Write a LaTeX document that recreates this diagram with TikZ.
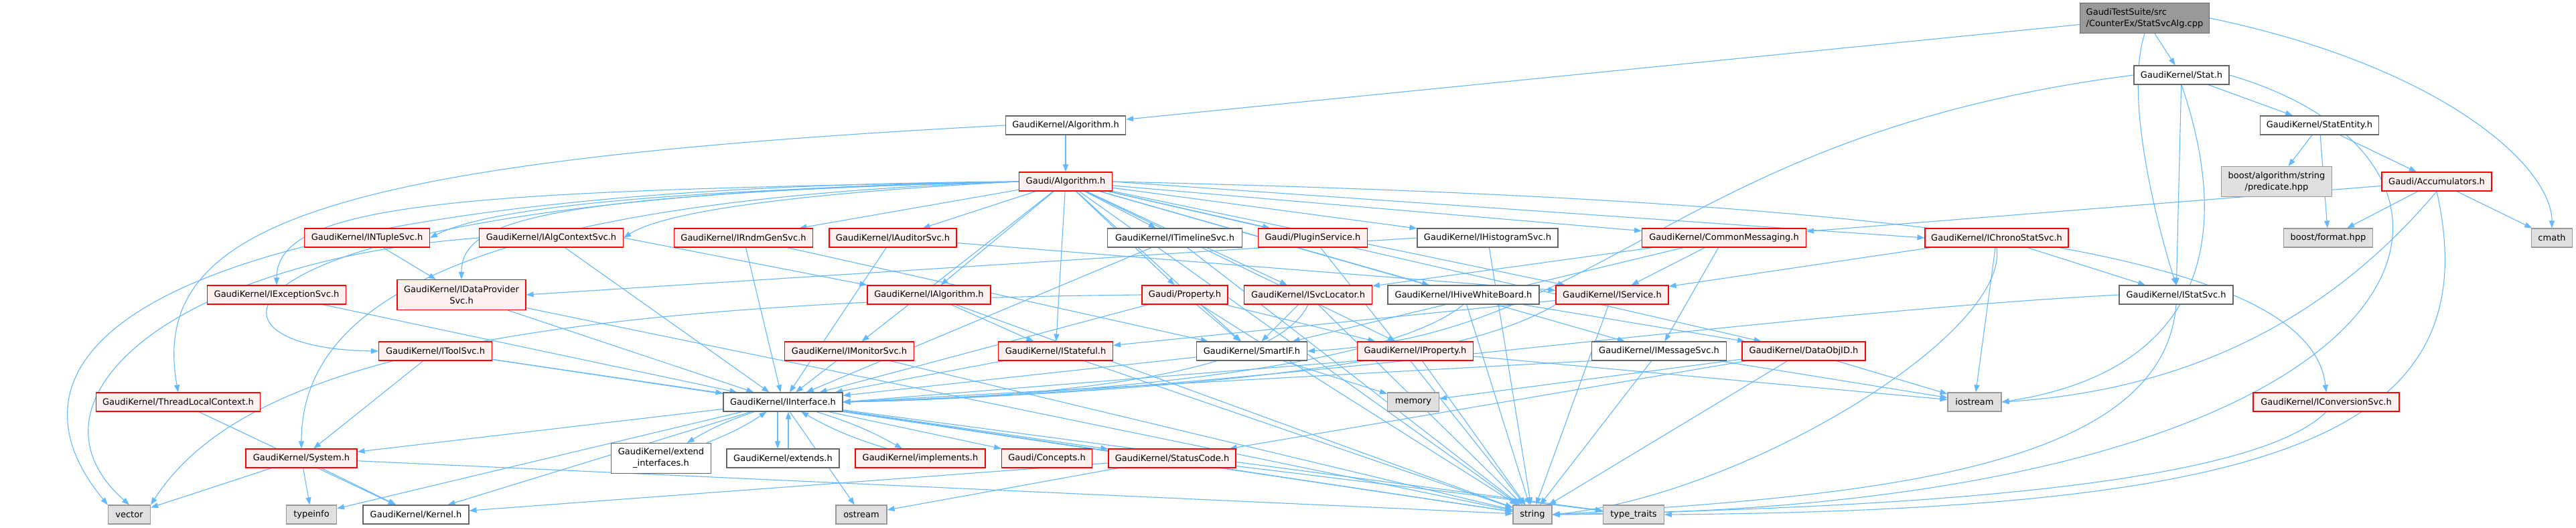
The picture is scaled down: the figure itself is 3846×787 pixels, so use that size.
\documentclass[tikz,border=0pt]{standalone}
\usepackage{fontspec}
\setmainfont{DejaVu Sans}
\usetikzlibrary{arrows.meta}
\pgfdeclarelayer{bgfill}
\pgfdeclarelayer{background}
\pgfsetlayers{bgfill,background,main}
\definecolor{edgec}{HTML}{63B8FF}
\definecolor{redfill}{HTML}{FFF0F0}
\definecolor{sysfill}{HTML}{E0E0E0}
\definecolor{sysborder}{HTML}{999999}
\definecolor{wborder}{HTML}{666666}
\definecolor{topfill}{HTML}{999999}
\begin{document}
\begin{tikzpicture}[x=1pt,y=1pt,
  box/.style={rectangle, inner sep=0pt, minimum height=28pt, line width=1.1pt, align=center, font=\fontsize{13}{17}\selectfont},
  rnode/.style={box, draw=red, fill=redfill},
  wnode/.style={box, draw=wborder, fill=white},
  snode/.style={box, draw=sysborder, fill=sysfill},
  tnode/.style={box, draw=wborder, fill=topfill},
  edge/.style={draw=edgec, color=edgec, line width=1.1pt, -{Triangle[length=11pt,width=8pt]}}
]
\begin{pgfonlayer}{bgfill}
\fill[white] (0,0) rectangle (3846,-787);
\end{pgfonlayer}
\useasboundingbox (0,0) rectangle (3846,-787);

% ---------- nodes ----------
\node[tnode, minimum width=193pt, minimum height=45pt, align=left] (top) at (3202,-27) {GaudiTestSuite/src\\/CounterEx/StatSvcAlg.cpp};
\node[wnode, minimum width=142pt] (stat) at (3257,-112) {GaudiKernel/Stat.h};
\node[wnode, minimum width=177pt] (statentity) at (3463,-187) {GaudiKernel/StatEntity.h};
\node[snode, minimum width=165pt, minimum height=45pt] (predicate) at (3399,-271) {boost/algorithm/string\\/predicate.hpp};
\node[rnode, minimum width=164pt] (accum) at (3638,-271) {Gaudi/Accumulators.h};
\node[snode, minimum width=133pt] (format) at (3476,-355) {boost/format.hpp};
\node[snode, minimum width=61pt] (cmath) at (3810,-355) {cmath};
\node[wnode, minimum width=179pt] (ralg) at (1591,-187) {GaudiKernel/Algorithm.h};
\node[rnode, minimum width=139pt] (galg) at (1591,-271) {Gaudi/Algorithm.h};

\node[rnode, minimum width=187pt] (intuple) at (548,-355) {GaudiKernel/INTupleSvc.h};
\node[rnode, minimum width=215pt] (algctx) at (823,-355) {GaudiKernel/IAlgContextSvc.h};
\node[rnode, minimum width=207pt] (rndm) at (1110,-355) {GaudiKernel/IRndmGenSvc.h};
\node[rnode, minimum width=190pt] (auditor) at (1333,-355) {GaudiKernel/IAuditorSvc.h};
\node[wnode, minimum width=201pt] (timeline) at (1754,-355) {GaudiKernel/ITimelineSvc.h};
\node[rnode, minimum width=163pt] (plugin) at (1960,-355) {Gaudi/PluginService.h};
\node[wnode, minimum width=210pt] (histo) at (2221,-355) {GaudiKernel/IHistogramSvc.h};
\node[rnode, minimum width=245pt] (commonmsg) at (2574,-355) {GaudiKernel/CommonMessaging.h};
\node[rnode, minimum width=214pt] (chrono) at (2981,-355) {GaudiKernel/IChronoStatSvc.h};

\node[rnode, minimum width=207pt] (exception) at (413,-440) {GaudiKernel/IExceptionSvc.h};
\node[rnode, minimum width=192pt, minimum height=45pt] (dataprov) at (689,-440) {GaudiKernel/IDataProvider\\Svc.h};
\node[rnode, minimum width=184pt] (ialgorithm) at (1387,-440) {GaudiKernel/IAlgorithm.h};
\node[rnode, minimum width=128pt] (property) at (1769,-440) {Gaudi/Property.h};
\node[rnode, minimum width=191pt] (svcloc) at (1953,-440) {GaudiKernel/ISvcLocator.h};
\node[wnode, minimum width=226pt] (hive) at (2185,-440) {GaudiKernel/IHiveWhiteBoard.h};
\node[rnode, minimum width=168pt] (iservice) at (2407,-440) {GaudiKernel/IService.h};
\node[wnode, minimum width=170pt] (istatsvc) at (3249,-440) {GaudiKernel/IStatSvc.h};

\node[rnode, minimum width=169pt] (toolsvc) at (650,-524) {GaudiKernel/IToolSvc.h};
\node[rnode, minimum width=193pt] (monitor) at (1268,-524) {GaudiKernel/IMonitorSvc.h};
\node[rnode, minimum width=171pt] (stateful) at (1576,-524) {GaudiKernel/IStateful.h};
\node[wnode, minimum width=165pt] (smartif) at (1869,-524) {GaudiKernel/SmartIF.h};
\node[rnode, minimum width=173pt] (iproperty) at (2113,-524) {GaudiKernel/IProperty.h};
\node[wnode, minimum width=201pt] (imsgsvc) at (2477,-524) {GaudiKernel/IMessageSvc.h};
\node[rnode, minimum width=184pt] (dataobjid) at (2693,-524) {GaudiKernel/DataObjID.h};

\node[rnode, minimum width=245pt] (threadlocal) at (266,-600) {GaudiKernel/ThreadLocalContext.h};
\node[wnode, minimum width=178pt] (iinterface) at (1169,-600) {GaudiKernel/IInterface.h};
\node[snode, minimum width=77pt] (memory) at (2110,-600) {memory};
\node[snode, minimum width=80pt] (iostream) at (2948,-600) {iostream};
\node[rnode, minimum width=218pt] (iconversion) at (3473,-600) {GaudiKernel/IConversionSvc.h};

\node[rnode, minimum width=166pt] (system) at (450,-684) {GaudiKernel/System.h};
\node[wnode, minimum width=149pt, minimum height=45pt] (extend) at (987,-684) {GaudiKernel/extend\\\_interfaces.h};
\node[wnode, minimum width=168pt] (extends) at (1169,-684) {GaudiKernel/extends.h};
\node[rnode, minimum width=194pt] (implements) at (1374,-684) {GaudiKernel/implements.h};
\node[rnode, minimum width=135pt] (concepts) at (1563,-684) {Gaudi/Concepts.h};
\node[rnode, minimum width=190pt] (statuscode) at (1750,-684) {GaudiKernel/StatusCode.h};

\node[snode, minimum width=63pt] (vector) at (193,-768) {vector};
\node[snode, minimum width=75pt] (typeinfo) at (465,-768) {typeinfo};
\node[wnode, minimum width=158pt] (kernel) at (621,-768) {GaudiKernel/Kernel.h};
\node[snode, minimum width=76pt] (ostream) at (1286,-768) {ostream};
\node[snode, minimum width=58pt] (string) at (2288,-768) {string};
\node[snode, minimum width=91pt] (typetraits) at (2439,-768) {type\_traits};

% ---------- edges ----------
\begin{pgfonlayer}{background}
% top file
\draw[edge] (top) -- (ralg);
\draw[edge] (top) -- (stat);
\draw[edge] (top.south) .. controls (3170,-150) and (3225,-350) .. (istatsvc.north);
\draw[edge] (top.east) .. controls (3650,-100) and (3810,-250) .. (cmath.north);
% Stat.h
\draw[edge] (stat.west) .. controls (2500,-200) and (2400,-500) .. (smartif.east);
\draw[edge] (stat) -- (istatsvc);
\draw[edge] (stat) -- (statentity);
\draw[edge] (stat.south) .. controls (3350,-400) and (3250,-560) .. (iostream.east);
\draw[edge] (stat.east) .. controls (3800,-250) and (3650,-760) .. (string.east);
% StatEntity / Accumulators
\draw[edge] (statentity) -- (predicate);
\draw[edge] (statentity) -- (format);
\draw[edge] (statentity) -- (accum);
\draw[edge] (accum) -- (commonmsg);
\draw[edge] (accum) -- (format);
\draw[edge] (accum) -- (cmath);
\draw[edge] (accum.south) .. controls (3500,-450) and (3300,-580) .. (iostream.east);
\draw[edge] (accum.south) .. controls (3720,-650) and (3400,-760) .. (typetraits.east);
% GaudiKernel/Algorithm.h
\draw[edge] (ralg) -- (galg);
\draw[edge] (ralg.west) .. controls (500,-240) and (220,-330) .. (threadlocal.north);
% Gaudi/Algorithm.h
\draw[edge] (galg.west) .. controls (1100,-282) and (750,-300) .. (intuple.east);
\draw[edge] (galg.west) .. controls (1250,-285) and (1000,-310) .. (algctx.east);
\draw[edge] (galg) -- (rndm);
\draw[edge] (galg) -- (auditor);
\draw[edge] (galg) -- (timeline);
\draw[edge] (galg) -- (plugin);
\draw[edge] (galg) -- (histo);
\draw[edge] (galg) -- (commonmsg);
\draw[edge] (galg.east) -- (chrono.west);
\draw[edge] (galg.west) .. controls (700,-285) and (413,-300) .. (exception.north);
\draw[edge] (galg.west) .. controls (800,-290) and (689,-330) .. (dataprov.north);
\draw[edge] (galg) -- (ialgorithm);
\draw[edge] (galg) -- (property);
\draw[edge] (galg) -- (svcloc);
\draw[edge] (galg) -- (hive);
\draw[edge] (galg) -- (iservice);
\draw[edge] (galg.west) .. controls (300,-290) and (250,-520) .. (toolsvc.west);
\draw[edge] (galg) -- (monitor);
\draw[edge] (galg) -- (stateful);
\draw[edge] (galg) -- (smartif);
\draw[edge] (galg) -- (iproperty);
\draw[edge] (galg) -- (imsgsvc);
\draw[edge] (galg) -- (dataobjid);
\draw[edge] (galg.east) .. controls (2900,-300) and (3450,-380) .. (iconversion.north);
\draw[edge] (galg.west) .. controls (700,-300) and (450,-450) .. (system.north);
\draw[edge] (galg.west) .. controls (100,-280) and (0,-560) .. (vector.north west);
\draw[edge] (galg) -- (string);
% row 355 children
\draw[edge] (intuple) -- (dataprov);
\draw[edge] (algctx.east) -- (ialgorithm.north west);
\draw[edge] (algctx) -- (iinterface);
\draw[edge] (algctx.west) .. controls (250,-390) and (20,-600) .. (vector.north);
\draw[edge] (rndm) -- (iinterface);
\draw[edge] (rndm) -- (smartif);
\draw[edge] (auditor) -- (iinterface);
\draw[edge] (auditor) -- (iservice);
\draw[edge] (timeline) -- (iinterface);
\draw[edge] (timeline) -- (string);
\draw[edge] (plugin) -- (string);
\draw[edge] (histo.west) -- (dataprov.east);
\draw[edge] (histo) -- (string);
\draw[edge] (commonmsg) -- (imsgsvc);
\draw[edge] (commonmsg) -- (iservice);
\draw[edge] (commonmsg) -- (svcloc);
\draw[edge] (commonmsg) -- (smartif);
\draw[edge] (chrono) -- (iservice);
\draw[edge] (chrono) -- (istatsvc);
\draw[edge] (chrono) -- (iostream);
\draw[edge] (chrono.south) .. controls (3000,-500) and (2600,-740) .. (string.east);
% row 440 children
\draw[edge] (exception) -- (iinterface);
\draw[edge] (dataprov) -- (iinterface);
\draw[edge] (dataprov) -- (string);
\draw[edge] (ialgorithm) -- (stateful);
\draw[edge] (ialgorithm) -- (string);
\draw[edge] (property) -- (smartif);
\draw[edge] (property) -- (iproperty);
\draw[edge] (property) -- (string);
\draw[edge] (property) -- (iinterface);
\draw[edge] (property.west) .. controls (700,-450) and (350,-560) .. (vector.north east);
\draw[edge] (svcloc) -- (smartif);
\draw[edge] (svcloc) -- (string);
\draw[edge] (svcloc.south) .. controls (1900,-570) and (1500,-595) .. (iinterface.east);
\draw[edge] (hive.south) .. controls (2050,-565) and (1500,-592) .. (iinterface.east);
\draw[edge] (hive) -- (string);
\draw[edge] (hive) -- (dataobjid);
\draw[edge] (iservice) -- (stateful);
\draw[edge] (iservice) -- (string);
\draw[edge] (iservice.south west) .. controls (2150,-560) and (1600,-590) .. (iinterface.east);
\draw[edge] (istatsvc.west) .. controls (2600,-470) and (1800,-590) .. (iinterface.east);
\draw[edge] (istatsvc.south) .. controls (3230,-700) and (2800,-740) .. (string.east);
% row 524 children
\draw[edge] (toolsvc) -- (system);
\draw[edge] (toolsvc) -- (string);
\draw[edge] (toolsvc) -- (iinterface);
\draw[edge] (monitor) -- (iinterface);
\draw[edge] (monitor) -- (string);
\draw[edge] (stateful) -- (iinterface);
\draw[edge] (stateful) -- (string);
\draw[edge] (smartif) -- (iinterface);
\draw[edge] (smartif) -- (memory);
\draw[edge] (iproperty.south west) -- (iinterface.east);
\draw[edge] (iproperty) -- (string);
\draw[edge] (iproperty) -- (iostream);
\draw[edge] (imsgsvc.south west) -- (iinterface.east);
\draw[edge] (imsgsvc) -- (string);
\draw[edge] (imsgsvc) -- (iostream);
\draw[edge] (dataobjid) -- (memory);
\draw[edge] (dataobjid) -- (string);
\draw[edge] (dataobjid) -- (iostream);
\draw[edge] (dataobjid) -- (statuscode);
% row 600 children
\draw[edge] (threadlocal) -- (kernel);
\draw[edge] (iinterface) -- (system);
\draw[edge] (iinterface) -- (kernel);
\draw[edge] (iinterface) -- (typeinfo);
\draw[edge] (iinterface) to[bend right=6] (extend);
\draw[edge] (extend) to[bend right=6] (iinterface);
\draw[edge] ([xshift=-8pt]iinterface.south) -- ([xshift=-8pt]extends.north);
\draw[edge] ([xshift=8pt]extends.north) -- ([xshift=8pt]iinterface.south);
\draw[edge] (iinterface) to[bend left=6] (implements);
\draw[edge] (implements) to[bend left=6] (iinterface);
\draw[edge] (iinterface) -- (concepts);
\draw[edge] (iinterface) -- (statuscode);
\draw[edge] (iinterface) -- (ostream);
\draw[edge] (iinterface) -- (string);
\draw[edge] (iinterface) -- (typetraits);
\draw[edge] (iconversion.south) .. controls (3350,-740) and (2700,-760) .. (string.east);
% row 684 children
\draw[edge] (system) -- (vector);
\draw[edge] (system) -- (typeinfo);
\draw[edge] (system) -- (kernel);
\draw[edge] (system) -- (string);
\draw[edge] (statuscode) -- (ostream);
\draw[edge] (statuscode) -- (kernel);
\draw[edge] (statuscode) -- (typetraits);
\end{pgfonlayer}
\end{tikzpicture}
\end{document}
